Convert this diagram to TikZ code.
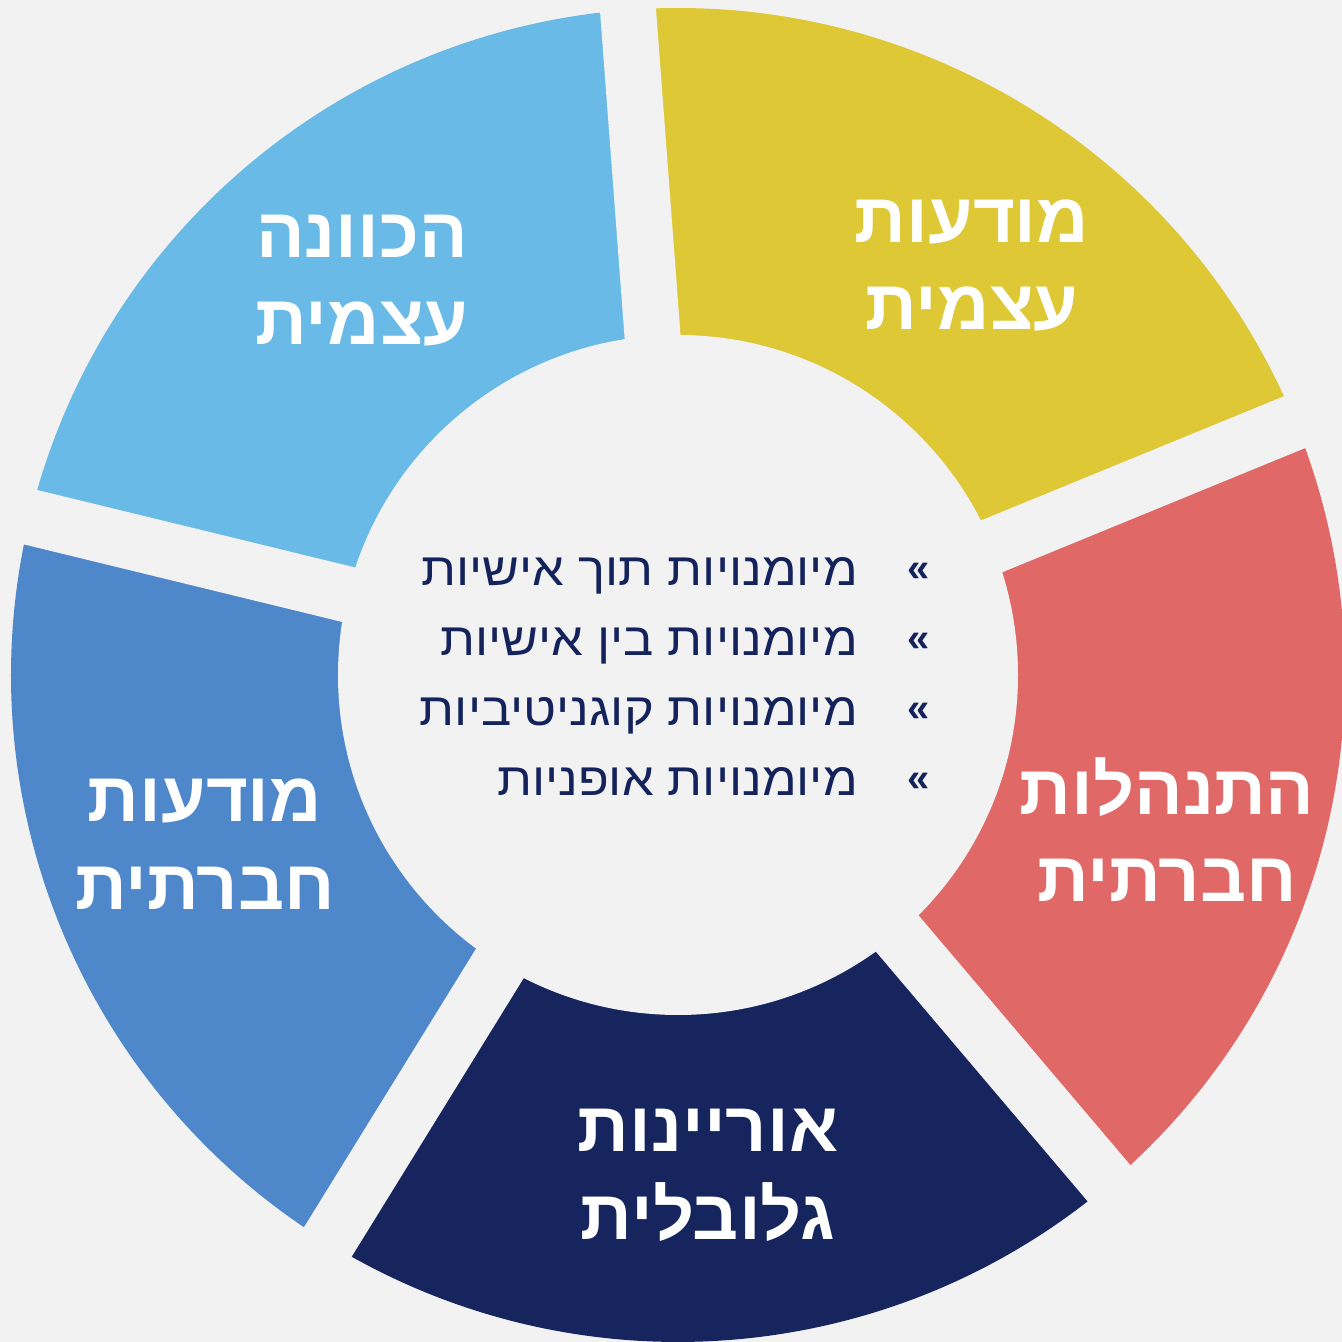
\documentclass[tikz,border=0pt]{standalone}
\usepackage{fontspec}
\setmainfont{Liberation Sans}
\newfontfamily\hebfont[Script=Hebrew,FakeStretch=1.1]{Liberation Sans}
\newfontfamily\hebbold[Script=Hebrew,FakeStretch=1.03]{Liberation Sans Bold}
\TeXXeTstate=1
\definecolor{bgc}{HTML}{F2F2F2}
\definecolor{segyellow}{HTML}{DEC836}
\definecolor{seglight}{HTML}{6ABAE8}
\definecolor{segmid}{HTML}{4E88CB}
\definecolor{segnavy}{HTML}{16255E}
\definecolor{segred}{HTML}{E06967}
\definecolor{txtnavy}{HTML}{15235C}
\begin{document}
\begin{tikzpicture}[x=1pt,y=1pt,
  seglabel/.style={text=white, anchor=base, inner sep=0pt, font=\hebbold\fontsize{70}{80}\selectfont},
  listitem/.style={text=txtnavy, anchor=base east, inner sep=0pt, font=\hebfont\fontsize{46}{55}\selectfont},
  bulletmark/.style={text=txtnavy, anchor=base, inner sep=0pt, font=\bfseries\fontsize{40}{48}\selectfont},
  gapband/.style={draw=bgc, line width=56pt, line cap=butt}]
\fill[bgc] (0,0) rectangle (1342,1342);
\useasboundingbox (0,0) rectangle (1342,1342);
\coordinate (c) at (678,667);
% sectors
\fill[segyellow] (c) -- ++(22.3:667) arc[start angle=22.3, end angle=94.3, radius=667] -- cycle;
\fill[seglight] (c) -- ++(94.3:667) arc[start angle=94.3, end angle=166.3, radius=667] -- cycle;
\fill[segmid] (c) -- ++(166.3:667) arc[start angle=166.3, end angle=238.3, radius=667] -- cycle;
\fill[segnavy] (c) -- ++(238.3:667) arc[start angle=238.3, end angle=310.3, radius=667] -- cycle;
\fill[segred] (c) -- ++(310.3:667) arc[start angle=310.3, end angle=382.3, radius=667] -- cycle;
% gaps
\foreach \a in {22.3,94.3,166.3,238.3,310.3}
  \draw[gapband] (c) -- ++(\a:720);
\fill[bgc] (c) circle[radius=340];
% labels
\node[seglabel] (y1) at (972,1099) {\beginR מודעות\endR};
\node[seglabel] (y2) at (972,1012) {\beginR עצמית\endR};
\node[seglabel] (l1) at (362,1084) {\beginR הכוונה\endR};
\node[seglabel] (l2) at (362,997) {\beginR עצמית\endR};
\node[seglabel] (r1) at (1167,527) {\beginR התנהלות\endR};
\node[seglabel] (r2) at (1167,440) {\beginR חברתית\endR};
\node[seglabel] (m1) at (205,520) {\beginR מודעות\endR};
\node[seglabel] (m2) at (205,432) {\beginR חברתית\endR};
\node[seglabel] (n1) at (708,190) {\beginR אוריינות\endR};
\node[seglabel] (n2) at (708,102) {\beginR גלובלית\endR};
% list
\node[listitem] (t1) at (858,756) {\beginR מיומנויות תוך אישיות\endR};
\node[listitem] (t2) at (858,686) {\beginR מיומנויות בין אישיות\endR};
\node[listitem] (t3) at (858,616) {\beginR מיומנויות קוגניטיביות\endR};
\node[listitem] (t4) at (858,546) {\beginR מיומנויות אופניות\endR};
\node[bulletmark] (b1) at (919,760) {«};
\node[bulletmark] (b2) at (919,690) {«};
\node[bulletmark] (b3) at (919,620) {«};
\node[bulletmark] (b4) at (919,550) {«};
\end{tikzpicture}
\end{document}
